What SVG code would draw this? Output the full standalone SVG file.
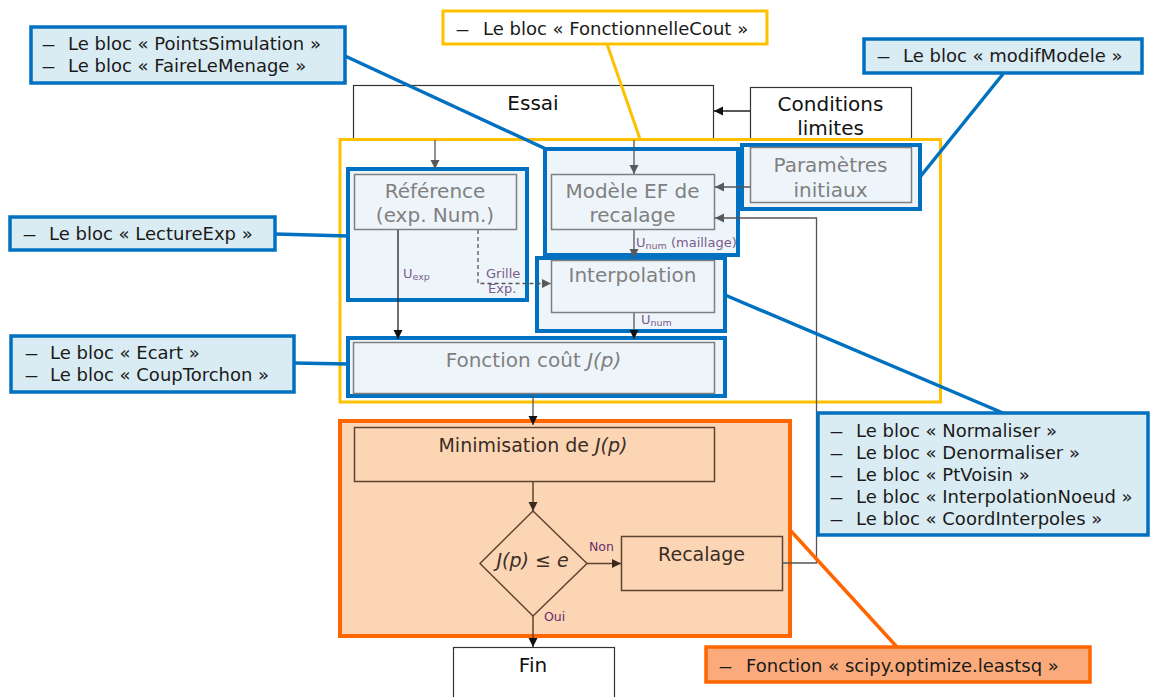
<svg xmlns="http://www.w3.org/2000/svg" width="1150" height="697" viewBox="0 0 1150 697">
<style>
text{font-family:"DejaVu Sans","Verdana",sans-serif}
.node{font-size:20px;fill:#808080;text-anchor:middle}
.blk{font-size:20px;fill:#111;text-anchor:middle}
.brn{font-size:19px;fill:#3b2e25;text-anchor:middle}
.co{font-size:18px;fill:#1a1a1a}
.lbl{font-size:13px;fill:#7a5c8a}
.yn{font-size:12.5px;fill:#6a2f6a}
.bluebox{fill:#eef5fa;stroke:#0070c0;stroke-width:4}
.inner{fill:#eef5fa;stroke:#7f7f7f;stroke-width:1.5}
.callout{fill:#daecf3;stroke:#0070c0;stroke-width:3.5}
.plain{fill:#fff;stroke:#333;stroke-width:1.2}
.brnbox{fill:none;stroke:#5e4330;stroke-width:1.5}
.fl{fill:none;stroke:#555;stroke-width:1.3}
.flk{fill:none;stroke:#222;stroke-width:1.3}
.flb{fill:none;stroke:#5e4330;stroke-width:1.5}
.lnkb{stroke:#0070c0;stroke-width:3.5}
.lnky{stroke:#ffc000;stroke-width:3}
.lnko{stroke:#ff6600;stroke-width:3.5}
</style>
<defs>
<marker id="ak" markerUnits="userSpaceOnUse" markerWidth="10" markerHeight="10" refX="9" refY="5" orient="auto"><path d="M0,0.5 L9,5 L0,9.5 Z" fill="#111"/></marker>
<marker id="ag" markerUnits="userSpaceOnUse" markerWidth="10" markerHeight="10" refX="9" refY="5" orient="auto"><path d="M0,0.5 L9,5 L0,9.5 Z" fill="#595959"/></marker>
<marker id="ab" markerUnits="userSpaceOnUse" markerWidth="10" markerHeight="10" refX="9" refY="5" orient="auto"><path d="M0,0.5 L9,5 L0,9.5 Z" fill="#3b2a1c"/></marker>
</defs>
<rect width="1150" height="697" fill="#fff"/>

<g id="essai"><rect class="plain" x="353.5" y="85.5" width="360" height="54"/><text class="blk" x="533" y="110">Essai</text></g>
<g id="conditions-limites"><rect class="plain" x="750.5" y="87.5" width="161" height="52"/><text class="blk" x="830.5" y="111">Conditions</text><text class="blk" x="830.5" y="135">limites</text></g>

<g id="orange-zone"><rect x="340" y="421" width="450" height="215" fill="#fcd5b5" stroke="#ff6600" stroke-width="4"/></g>
<g id="yellow-zone"><rect x="340" y="139.5" width="600.5" height="262.5" fill="none" stroke="#ffc000" stroke-width="3"/></g>

<g id="reference"><rect class="bluebox" x="348" y="169" width="179" height="131"/><rect class="inner" x="354.5" y="174.5" width="162" height="55"/><text class="node" x="435" y="198">Référence</text><text class="node" x="435" y="222">(exp. Num.)</text></g>
<g id="modele-ef"><rect class="bluebox" x="545" y="149" width="193" height="106"/><rect class="inner" x="551.5" y="174.5" width="163" height="55"/><text class="node" x="632.5" y="198">Modèle EF de</text><text class="node" x="632.5" y="222">recalage</text></g>
<g id="parametres"><rect class="bluebox" x="742" y="145" width="178" height="64"/><rect class="inner" x="750.5" y="147.5" width="161" height="55"/><text class="node" x="830.5" y="172">Paramètres</text><text class="node" x="830.5" y="197">initiaux</text></g>
<g id="interpolation"><rect class="bluebox" x="537" y="258" width="188" height="73"/><rect class="inner" x="551.5" y="260.5" width="163" height="52"/><text class="node" x="632.5" y="282">Interpolation</text></g>
<g id="fonction-cout"><rect class="bluebox" x="348" y="338" width="377" height="58"/><rect class="inner" x="353.5" y="342.5" width="361" height="51"/><text class="node" x="533.5" y="367">Fonction coût <tspan font-style="italic">J(p)</tspan></text></g>

<g id="minimisation"><rect class="brnbox" x="354.5" y="427.5" width="360" height="54"/><text class="brn" x="533" y="452">Minimisation de <tspan font-style="italic">J(p)</tspan></text></g>
<g id="test"><path class="brnbox" d="M533,511 L587,563.5 L533,616 L480,563.5 Z"/><text class="brn" x="532.5" y="567" font-size="20"><tspan font-style="italic">J(p)</tspan> ≤ <tspan font-style="italic">e</tspan></text></g>
<g id="recalage"><rect class="brnbox" x="621.5" y="536.5" width="161" height="54"/><text class="brn" x="701.5" y="561" font-size="20">Recalage</text></g>
<g id="fin"><rect class="plain" x="453.5" y="647.5" width="161" height="60"/><text class="blk" x="533" y="672">Fin</text></g>

<g id="connectors">
<path class="flk" d="M750,111 H714" marker-end="url(#ak)"/>
<path class="fl" d="M435,140 V169" marker-end="url(#ag)"/>
<path class="fl" d="M634,140 V174" marker-end="url(#ag)"/>
<path class="fl" d="M750,187 H715" marker-end="url(#ag)"/>
<path class="fl" d="M782,563 H816.5 V218 H715" marker-end="url(#ag)"/>
<path class="fl" d="M634,230 V258" marker-end="url(#ag)"/>
<path class="fl" d="M478,230 V283.5 H551" stroke-dasharray="4,3" marker-end="url(#ag)"/>
<path class="flk" d="M398,230 V339" marker-end="url(#ak)"/>
<path class="fl" d="M634,313 V339" marker-end="url(#ak)"/>
<path class="fl" d="M533,394 V425" marker-end="url(#ak)"/>
<path class="flb" d="M533,482 V511" marker-end="url(#ab)"/>
<path class="flb" d="M587,563.5 H621" marker-end="url(#ab)"/>
<path class="flb" d="M533,616 V647" marker-end="url(#ak)"/>
<text class="lbl" x="636" y="247">U<tspan font-size="9.5" dy="2">num</tspan><tspan dy="-2"> (maillage)</tspan></text>
<text class="lbl" x="403" y="278">U<tspan font-size="9.5" dy="2">exp</tspan></text>
<text class="lbl" x="486" y="278">Grille</text>
<text class="lbl" x="488" y="293">Exp.</text>
<text class="lbl" x="641" y="324">U<tspan font-size="9.5" dy="2">num</tspan></text>
<text class="yn" x="589" y="551">Non</text>
<text class="yn" x="544" y="621">Oui</text>
</g>

<g id="callout-links">
<line class="lnkb" x1="345" y1="56" x2="546" y2="149"/>
<line class="lnkb" x1="275" y1="234" x2="348" y2="236"/>
<line class="lnkb" x1="294" y1="363" x2="348" y2="364"/>
<line class="lnkb" x1="1003" y1="74" x2="920" y2="177"/>
<line class="lnkb" x1="725" y1="295" x2="1003" y2="413"/>
<line class="lnky" x1="607" y1="44" x2="640" y2="139"/>
<line class="lnko" x1="790" y1="530" x2="897" y2="647"/>
</g>

<g id="callout-pointssimulation"><rect class="callout" x="31" y="27" width="314" height="56"/>
<text class="co" x="42" y="50" textLength="13" lengthAdjust="spacingAndGlyphs">—</text><text class="co" x="68" y="50">Le bloc « PointsSimulation »</text>
<text class="co" x="42" y="72" textLength="13" lengthAdjust="spacingAndGlyphs">—</text><text class="co" x="68" y="72">Le bloc « FaireLeMenage »</text></g>
<g id="callout-lectureexp"><rect class="callout" x="10" y="217" width="265" height="33"/>
<text class="co" x="23" y="240" textLength="13" lengthAdjust="spacingAndGlyphs">—</text><text class="co" x="49" y="240">Le bloc « LectureExp »</text></g>
<g id="callout-fonctionnellecout"><rect x="443" y="11" width="324" height="33" fill="#fff" stroke="#ffc000" stroke-width="3"/>
<text class="co" x="456" y="35" textLength="13" lengthAdjust="spacingAndGlyphs">—</text><text class="co" x="483" y="35">Le bloc « FonctionnelleCout »</text></g>
<g id="callout-modifmodele"><rect class="callout" x="864" y="39" width="278" height="34"/>
<text class="co" x="877" y="62" textLength="13" lengthAdjust="spacingAndGlyphs">—</text><text class="co" x="903" y="62">Le bloc « modifModele »</text></g>
<g id="callout-ecart"><rect class="callout" x="11" y="336" width="283" height="56"/>
<text class="co" x="25" y="359" textLength="13" lengthAdjust="spacingAndGlyphs">—</text><text class="co" x="50" y="359">Le bloc « Ecart »</text>
<text class="co" x="25" y="381" textLength="13" lengthAdjust="spacingAndGlyphs">—</text><text class="co" x="50" y="381">Le bloc « CoupTorchon »</text></g>
<g id="callout-normaliser"><rect class="callout" x="818" y="413" width="330" height="122"/>
<text class="co" x="830" y="437" textLength="13" lengthAdjust="spacingAndGlyphs">—</text><text class="co" x="856" y="437">Le bloc « Normaliser  »</text>
<text class="co" x="830" y="459" textLength="13" lengthAdjust="spacingAndGlyphs">—</text><text class="co" x="856" y="459">Le bloc « Denormaliser »</text>
<text class="co" x="830" y="481" textLength="13" lengthAdjust="spacingAndGlyphs">—</text><text class="co" x="856" y="481">Le bloc « PtVoisin »</text>
<text class="co" x="830" y="503" textLength="13" lengthAdjust="spacingAndGlyphs">—</text><text class="co" x="856" y="503">Le bloc « InterpolationNoeud »</text>
<text class="co" x="830" y="525" textLength="13" lengthAdjust="spacingAndGlyphs">—</text><text class="co" x="856" y="525">Le bloc « CoordInterpoles »</text></g>
<g id="callout-scipy"><rect x="706" y="647" width="384" height="35" fill="#fbab7b" stroke="#ff6600" stroke-width="3.5"/>
<text class="co" x="719" y="672" textLength="13" lengthAdjust="spacingAndGlyphs">—</text><text class="co" x="746" y="672">Fonction « scipy.optimize.leastsq  »</text></g>
</svg>
